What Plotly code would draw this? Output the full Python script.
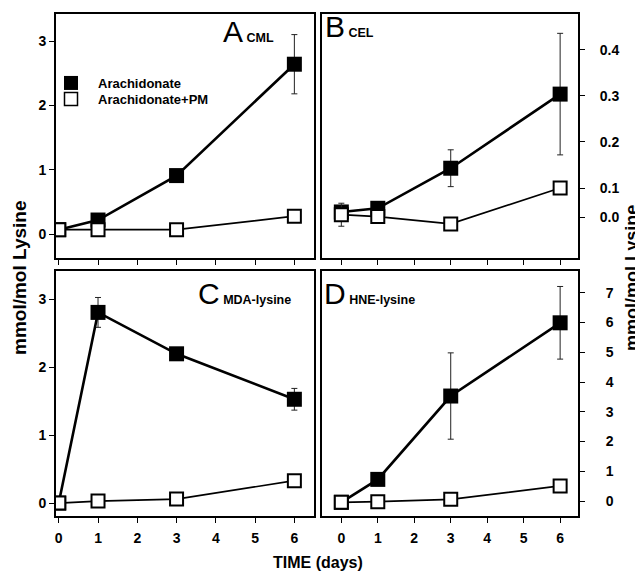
import plotly.graph_objects as go

# The page body has an 8px margin, so the figure is sized to fit inside the window.
OFF = 8
W, H = 643 - OFF, 574 - OFF

days = [0, 1, 3, 6]

# Panel A - CML
cml_ara = [0.07, 0.22, 0.91, 2.64]
cml_ara_err = [0.0, 0.03, 0.05, 0.46]
cml_pm = [0.07, 0.07, 0.07, 0.28]
cml_pm_err = [0.0, 0.0, 0.0, 0.03]

# Panel B - CEL
cel_ara = [0.048, 0.056, 0.143, 0.304]
cel_ara_err = [0.005, 0.005, 0.04, 0.132]
cel_pm = [0.042, 0.038, 0.022, 0.100]
cel_pm_err = [0.025, 0.005, 0.005, 0.005]

# Panel C - MDA-lysine
mda_ara = [0.0, 2.81, 2.20, 1.53]
mda_ara_err = [0.0, 0.22, 0.05, 0.16]
mda_pm = [0.0, 0.03, 0.06, 0.33]
mda_pm_err = [0.0, 0.0, 0.0, 0.08]

# Panel D - HNE-lysine
hne_ara = [-0.04, 0.73, 3.53, 5.99]
hne_ara_err = [0.0, 0.1, 1.45, 1.22]
hne_pm = [-0.04, -0.02, 0.06, 0.51]
hne_pm_err = [0.0, 0.0, 0.0, 0.05]

x_ticks = [0, 1, 2, 3, 4, 5, 6]
a_ticks = [0, 1, 2, 3]
b_tickvals = [0.037, 0.1, 0.2, 0.3, 0.4]
b_ticktext = ["0.0", "0.1", "0.2", "0.3", "0.4"]
c_ticks = [0, 1, 2, 3]
d_ticks = [0, 1, 2, 3, 4, 5, 6, 7]

series_names = ["Arachidonate", "Arachidonate+PM"]

FONT = "Liberation Sans, Arial, sans-serif"


def fx(px):
    return (px - OFF) / W


def fy(py):
    return 1 - (py - OFF) / H


fig = go.Figure()

panels = [
    ("x", "y", cml_ara, cml_ara_err, cml_pm, cml_pm_err),
    ("x2", "y2", cel_ara, cel_ara_err, cel_pm, cel_pm_err),
    ("x3", "y3", mda_ara, mda_ara_err, mda_pm, mda_pm_err),
    ("x4", "y4", hne_ara, hne_ara_err, hne_pm, hne_pm_err),
]

for xa, ya, ara, ara_e, pm, pm_e in panels:
    fig.add_trace(go.Scatter(
        x=days, y=ara, xaxis=xa, yaxis=ya, mode="lines+markers",
        line=dict(color="black", width=2.6),
        marker=dict(symbol="square", size=15, color="black",
                    line=dict(color="black", width=0)),
        error_y=dict(type="data", array=ara_e, color="#222", thickness=1, width=3),
        showlegend=False, name=series_names[0]))
    fig.add_trace(go.Scatter(
        x=days, y=pm, xaxis=xa, yaxis=ya, mode="lines+markers",
        line=dict(color="black", width=1.7),
        marker=dict(symbol="square", size=13, color="white",
                    line=dict(color="black", width=2)),
        error_y=dict(type="data", array=pm_e, color="#222", thickness=1, width=3),
        showlegend=False, name=series_names[1]))

# legend-only marker entries (one per legend so spacing can match)
fig.add_trace(go.Scatter(x=[None], y=[None], mode="markers", name=series_names[0],
                         marker=dict(symbol="square", size=14, color="black"),
                         showlegend=True, legend="legend"))
fig.add_trace(go.Scatter(x=[None], y=[None], mode="markers", name=series_names[1],
                         marker=dict(symbol="square", size=13, color="white",
                                     line=dict(color="black", width=1.5)),
                         showlegend=True, legend="legend2"))

tickfont = dict(family=FONT, size=14, color="black", weight="bold")

common_x = dict(showline=True, linecolor="black", linewidth=2, mirror=True,
                ticks="outside", ticklen=5, tickwidth=1.3, tickcolor="black",
                tickvals=x_ticks, showgrid=False, zeroline=False,
                tickfont=tickfont)
common_y = dict(showline=True, linecolor="black", linewidth=2, mirror=True,
                ticks="outside", ticklen=5, tickwidth=1.3, tickcolor="black",
                showgrid=False, zeroline=False, tickfont=tickfont)

L_dom = [fx(56), fx(314)]
R_dom = [fx(322), fx(578)]
T_dom = [fy(258), fy(14)]
B_dom = [fy(516), fy(271)]

left_xrange = [-0.07, 6.5]
right_xrange = [-0.53, 6.49]

fig.update_layout(
    xaxis=dict(common_x, domain=L_dom, range=left_xrange, anchor="y", showticklabels=False),
    yaxis=dict(common_y, domain=T_dom, range=[-0.37, 3.42], anchor="x", tickvals=a_ticks),
    xaxis2=dict(common_x, domain=R_dom, range=right_xrange, anchor="y2", showticklabels=False),
    yaxis2=dict(common_y, domain=T_dom, range=[-0.052, 0.478], anchor="x2", side="right",
                tickvals=b_tickvals, ticktext=b_ticktext, ticklabelstandoff=12),
    xaxis3=dict(common_x, domain=L_dom, range=left_xrange, anchor="y3", ticklabelstandoff=3),
    yaxis3=dict(common_y, domain=B_dom, range=[-0.19, 3.42], anchor="x3", tickvals=c_ticks),
    xaxis4=dict(common_x, domain=R_dom, range=right_xrange, anchor="y4", ticklabelstandoff=3),
    yaxis4=dict(common_y, domain=B_dom, range=[-0.50, 7.73], anchor="x4", side="right",
                tickvals=d_ticks, ticklabelstandoff=18),
)

annotations = []


def panel_label(letter, sub, left_px, top_px):
    annotations.append(dict(
        text=f"{letter}<b><span style='font-size:12.5px'> {sub}</span></b>",
        x=fx(left_px), y=fy(top_px), xref="paper", yref="paper",
        xanchor="left", yanchor="top", showarrow=False,
        font=dict(family=FONT, size=30, color="black")))


panel_label("A", "CML", 221, 13)
panel_label("B", "CEL", 323, 8)
panel_label("C", "MDA-lysine", 196, 275)
panel_label("D", "HNE-lysine", 322, 275)

title_font = dict(family=FONT, size=19, color="black", weight="bold")
annotations.append(dict(text="mmol/mol Lysine", x=fx(19), y=fy(278), xref="paper", yref="paper",
                        textangle=-90, showarrow=False, font=title_font,
                        xanchor="center", yanchor="middle"))
annotations.append(dict(text="mmol/mol Lysine", x=fx(632), y=fy(278), xref="paper", yref="paper",
                        textangle=-90, showarrow=False,
                        font=dict(family=FONT, size=18, color="black", weight="bold"),
                        xanchor="center", yanchor="middle"))
annotations.append(dict(text="TIME (days)", x=fx(318), y=fy(562), xref="paper", yref="paper",
                        showarrow=False, font=dict(family=FONT, size=16, color="black", weight="bold"),
                        xanchor="center", yanchor="middle"))

legend_font = dict(family=FONT, size=13, color="black", weight="bold")
fig.update_layout(
    width=W, height=H,
    margin=dict(l=0, r=0, t=0, b=0),
    paper_bgcolor="white", plot_bgcolor="white",
    annotations=annotations,
    legend=dict(x=fx(44), y=fy(68), xanchor="left", yanchor="top",
                bgcolor="rgba(0,0,0,0)", borderwidth=0, font=legend_font,
                itemwidth=44),
    legend2=dict(x=fx(44), y=fy(84), xanchor="left", yanchor="top",
                 bgcolor="rgba(0,0,0,0)", borderwidth=0, font=legend_font,
                 itemwidth=44),
)

fig.write_html("out.html")
